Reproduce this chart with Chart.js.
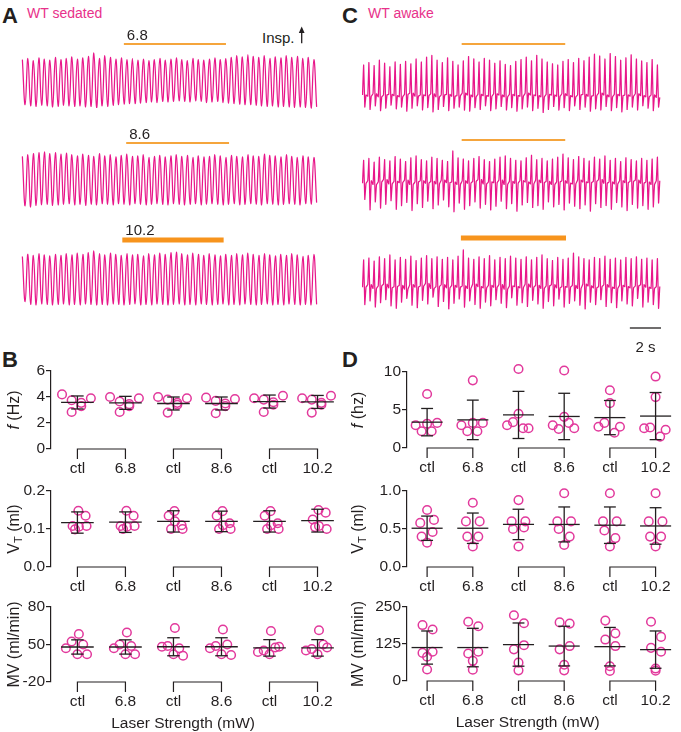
<!DOCTYPE html>
<html>
<head>
<meta charset="utf-8">
<title>WT sedated / awake</title>
<script src="https://cdn.jsdelivr.net/npm/chart.js@4.4.1/dist/chart.umd.min.js"></script>
<style>
  body { margin: 0; background: #fff; }
  #page { position: relative; width: 681px; height: 732px; overflow: hidden; background: #fff;
          font-family: Arial, "Liberation Sans", Helvetica, sans-serif; color: #231f20; }
  #page canvas { position: absolute; }
  .txt { position: absolute; white-space: nowrap; line-height: 1; }
  .panel { font-weight: bold; font-size: 22px; }
  .cond { font-size: 14px; color: #e8318a; }
</style>
</head>
<body>
<div id="page">
  <div class="txt panel" style="left:2px;top:5px">A</div>
  <div class="txt cond" style="left:27px;top:5.5px">WT sedated</div>
  <div class="txt panel" style="left:342px;top:5px">C</div>
  <div class="txt cond" style="left:368px;top:5.5px">WT awake</div>
  <div class="txt panel" style="left:2px;top:349px">B</div>
  <div class="txt panel" style="left:342px;top:349px">D</div>
  <div class="txt" style="left:262px;top:29.5px;font-size:15px">Insp.</div>
  <svg style="position:absolute;left:297px;top:25px" width="10" height="20">
    <line x1="4.7" y1="18.3" x2="4.7" y2="6" stroke="#231f20" stroke-width="1.3"/>
    <polygon points="4.7,1.5 1.8,8 7.6,8" fill="#231f20"/>
  </svg>
</div>
<script>
const ink = '#231f20';
const magenta = '#e8178a';
const dotPink = '#e2399c';
const fontFam = 'Arial, "Liberation Sans", Helvetica, sans-serif';

// breathing traces, one value per cycle (0 = lowest trough, 100 = highest peak of that trace)
const traceSeconds = 19.2;
const scaleBarSeconds = 2;

const sedPeak68 = [88,90,86,91,89,87,92,88,90,93,89,91,94,100,90,95,92,89,91,88,90,87,89,86,88,90,87,89,91,88,86,90,88,87,89,91,88,90,92,95,93,97,94,92,95,90,93,91,95,92,94,90,92,88];
const sedTrough68 = [6,4,3,5,4,2,3,5,4,3,4,2,3,1,4,3,5,6,7,8,8,9,10,11,10,12,11,12,13,12,11,13,12,10,11,12,10,9,8,7,6,6,5,4,3,4,2,3,2,1,2,1,0,2];
const sedPeak86 = [92,95,97,99,100,97,99,96,98,95,93,96,94,92,97,93,95,91,94,96,92,93,95,90,92,94,91,93,95,92,94,90,93,91,92,95,93,90,94,92,91,95,93,92,96,94,93,91,95,92,90,93,91,90];
const sedTrough86 = [2,0,3,4,5,3,4,5,6,4,5,3,5,4,6,5,4,6,5,4,6,5,4,5,6,5,4,6,5,4,5,6,4,5,6,5,4,5,6,4,5,6,5,4,6,5,4,5,6,5,4,6,5,8];
const sedPeak102 = [90,94,92,95,93,91,94,92,95,93,96,94,97,100,95,93,96,94,92,95,93,94,91,95,93,96,94,97,98,95,93,96,94,92,95,93,91,94,92,95,93,96,94,92,95,93,91,94,92,95,93,90,92,94];
const sedTrough102 = [8,3,2,4,3,2,3,4,2,3,2,4,3,2,3,2,4,3,2,3,4,2,3,2,4,3,2,3,4,2,3,2,4,3,2,3,4,2,3,2,4,3,2,3,4,2,3,2,4,3,2,3,2,3];

const awkPeak68 = [80,84,79,88,83,77,85,81,86,82,90,85,93,96,88,84,92,86,80,87,94,90,85,91,88,83,87,81,79,86,89,93,87,96,90,85,82,80,86,89,84,91,87,93,98,95,90,99,94,88,92,97,90,87,84,89,80];
const awkTrough68 = [10,6,12,4,8,13,7,10,3,8,12,5,9,2,6,11,4,8,10,5,3,9,6,12,4,7,11,5,9,3,7,10,4,8,1,6,11,5,9,4,12,6,10,3,7,5,11,4,9,2,6,10,5,12,8,4,10];
const awkBase68 = [30,28,32,27,30,31,29,27,31,33,28,30,29,32,27,30,31,28,29,33,30,27,31,29,28,32,30,27,31,29,28,33,30,29,27,31,30,28,32,29,27,30,31,28,29,33,30,27,31,29,30,28,32,29,27,30,26];
const awkPeak86 = [85,88,82,90,86,84,91,87,83,89,92,86,84,90,88,85,83,100,89,87,84,88,91,86,83,87,90,92,88,85,84,89,93,86,88,84,87,90,95,89,86,91,88,84,90,87,92,85,88,83,89,86,84,88,85,87,90];
const awkTrough86 = [22,5,18,8,14,20,6,12,17,4,15,9,19,7,13,21,10,2,16,6,12,18,8,14,5,11,19,7,15,3,13,17,9,12,6,18,10,14,5,16,11,7,13,3,15,9,12,6,17,10,4,14,8,12,6,10,16];
const awkBase86 = [48,52,46,50,54,47,51,49,53,46,50,52,48,51,47,53,49,50,46,52,48,51,54,47,50,49,53,46,51,48,52,50,47,53,49,51,46,50,52,48,47,53,50,49,51,54,48,50,47,52,49,51,53,48,50,46,52];
const awkPeak102 = [84,87,82,89,86,92,84,88,85,90,83,87,91,86,89,85,88,84,90,100,87,85,89,86,91,84,88,86,90,87,85,89,84,88,92,86,83,88,85,87,95,89,86,84,88,86,90,85,87,84,88,86,89,85,87,84,86];
const awkTrough102 = [12,18,8,15,20,10,6,16,22,11,7,19,13,24,9,17,5,14,21,8,18,12,6,16,10,20,14,7,23,11,15,9,19,13,6,17,10,21,8,14,18,11,5,16,12,20,9,15,7,18,13,10,22,8,16,12,6];
const awkBase102 = [40,44,38,42,45,39,41,43,37,44,40,42,46,38,41,44,39,43,40,42,38,45,41,39,43,40,44,37,42,41,39,45,40,43,38,42,44,39,41,40,43,38,45,42,39,41,44,40,38,43,41,39,42,44,40,38,41];

// laser on / off (s)
const sedLaser68 = [6.65, 13.25];
const sedLaser86 = [6.8, 13.45];
const sedLaser102 = [6.55, 13.1];
const awkLaser68 = [6.4, 13.05];
const awkLaser86 = [6.4, 13.05];
const awkLaser102 = [6.35, 13.1];

// group plots
const groupLabels = ['ctl', '6.8', 'ctl', '8.6', 'ctl', '10.2'];

const sedF = [[4.2,3.75,2.85,3.3,3.55,3.9],[4.0,3.65,2.85,3.45,3.3,3.9],[4.0,3.8,2.8,3.4,3.55,3.9],[3.95,3.7,2.75,3.3,3.5,3.85],[3.9,3.8,2.85,3.4,3.6,4.1],[3.9,3.8,2.8,3.4,3.55,4.1]];
const sedFMean = [3.58,3.55,3.5,3.5,3.65,3.62];
const sedFSd = [0.5,0.5,0.5,0.5,0.5,0.5];
const sedVt = [[0.148,0.135,0.108,0.106,0.108,0.099],[0.148,0.135,0.108,0.106,0.108,0.1],[0.147,0.11,0.135,0.12,0.1,0.1],[0.147,0.115,0.135,0.11,0.1,0.1],[0.147,0.115,0.135,0.11,0.1,0.1],[0.15,0.143,0.125,0.108,0.1,0.105]];
const sedVtMean = [0.117,0.118,0.12,0.12,0.12,0.122];
const sedVtSd = [0.028,0.027,0.028,0.027,0.028,0.03];
const sedMv = [[44,34,30,17,17,25],[46,30,28,17,17,25],[52,28,25,17,15,27],[50,28,30,17,16,25],[48,22,26,17,27,20],[49,24,30,17,26,22]];
const sedMvMean = [26.7,26.7,27,27,25.5,25.5];
const sedMvSd = [9.5,9.5,12,12,11,11];

const awkF = [[7.1,3.2,3.0,3.3,2.2,2.2],[8.9,3.3,3.0,3.3,2.2,2.2],[10.4,4.5,3.0,2.6,3.4,2.6],[10.2,4.1,3.0,2.6,2.5,3.3],[7.6,5.9,2.8,2.8,3.3,2.0],[9.4,6.7,2.6,2.4,2.7,1.5]];
const awkFMean = [3.4,3.7,4.35,4.15,4.0,4.2];
const awkFSd = [1.8,2.6,3.1,3.05,2.25,3.1];
const awkVt = [[0.75,0.58,0.62,0.4,0.46,0.32],[0.845,0.6,0.6,0.4,0.4,0.27],[0.88,0.6,0.6,0.5,0.52,0.27],[0.97,0.6,0.6,0.5,0.4,0.29],[0.97,0.6,0.6,0.48,0.38,0.27],[0.97,0.6,0.6,0.4,0.4,0.27]];
const awkVtMean = [0.51,0.51,0.56,0.56,0.55,0.54];
const awkVtSd = [0.16,0.2,0.2,0.23,0.24,0.24];
const awkMv = [[189,174,95,99,82,39],[200,185,93,99,68,38],[222,195,107,121,62,36],[198,194,107,118,55,36],[204,161,140,118,50,34],[200,149,112,99,42,35]];
const awkMvMean = [113,113,123,118,116,106];
const awkMvSd = [56,65,73,67,65,63];

function addCanvas(left, top, w, h) {
  const cv = document.createElement('canvas');
  cv.width = w; cv.height = h;
  cv.style.left = left + 'px'; cv.style.top = top + 'px';
  cv.style.width = w + 'px'; cv.style.height = h + 'px';
  document.getElementById('page').appendChild(cv);
  return cv;
}

function sedatedSeries(peaks, troughs) {
  const dt = traceSeconds / (peaks.length * 2), pts = [];
  peaks.forEach((p, i) => {
    pts.push({x: (2 * i + 0.5) * dt, y: p});
    pts.push({x: (2 * i + 1.5) * dt, y: troughs[i]});
  });
  return pts;
}

// awake breaths: baseline, fast spike up, dip below baseline, back to the baseline plateau
function awakeSeries(peaks, troughs, base) {
  const dt = traceSeconds / (peaks.length * 3), pts = [];
  peaks.forEach((p, i) => {
    pts.push({x: (3 * i + 0.3) * dt, y: base[i]});
    pts.push({x: (3 * i + 0.95) * dt, y: p});
    pts.push({x: (3 * i + 1.6) * dt, y: troughs[i]});
    pts.push({x: (3 * i + 2.3) * dt, y: base[i]});
  });
  return pts;
}

function laserPlugin(o, top) {
  return {
    id: 'laser',
    afterDraw(chart) {
      const ctx = chart.ctx, xs = chart.scales.x;
      const x1 = xs.getPixelForValue(o.on[0]), x2 = xs.getPixelForValue(o.on[1]);
      const y = o.barY - top;
      ctx.save();
      ctx.strokeStyle = o.thick ? '#f7941d' : '#f5a53c';
      ctx.lineWidth = o.thick ? 5 : 2;
      ctx.beginPath(); ctx.moveTo(x1, y); ctx.lineTo(x2, y); ctx.stroke();
      if (o.label) {
        ctx.fillStyle = ink;
        ctx.font = '15px ' + fontFam;
        ctx.textBaseline = 'alphabetic';
        ctx.fillText(o.label, x1 + 3, y - (o.thick ? 5 : 4));
      }
      if (o.scaleBar) {
        const s1 = xs.getPixelForValue(traceSeconds - scaleBarSeconds), s2 = xs.getPixelForValue(traceSeconds);
        const sy = 328 - top;
        ctx.strokeStyle = ink; ctx.lineWidth = 1.3;
        ctx.beginPath(); ctx.moveTo(s1, sy); ctx.lineTo(s2, sy); ctx.stroke();
        ctx.fillStyle = ink;
        ctx.font = '15px ' + fontFam;
        ctx.textAlign = 'center';
        ctx.fillText(scaleBarSeconds + ' s', (s1 + s2) / 2, 351.5 - top);
      }
      ctx.restore();
    }
  };
}

function traceChart(o) {
  const k = (o.yBot - o.yTop) / 100;
  const areaTop = o.yTop - 4 * k, areaBot = o.yBot + 4 * k;
  const top = Math.floor(o.barY - 22);
  const bottom = Math.ceil(o.scaleBar ? 358 : areaBot + 2);
  const cv = addCanvas(o.left, top, o.width, bottom - top);
  new Chart(cv, {
    type: 'line',
    data: {datasets: [{data: o.data, borderColor: magenta, borderWidth: 1.25, pointRadius: 0, tension: o.tension, fill: false}]},
    options: {
      responsive: false, animation: false, devicePixelRatio: 1,
      layout: {padding: {top: areaTop - top, bottom: bottom - areaBot, left: 0, right: 0}},
      plugins: {legend: {display: false}, tooltip: {enabled: false}},
      scales: {
        x: {type: 'linear', display: false, min: 0, max: traceSeconds},
        y: {display: false, min: -4, max: 104}
      }
    },
    plugins: [laserPlugin(o, top)]
  });
}

function dotDecor(o) {
  return {
    id: 'dotDecor',
    afterDatasetsDraw(chart) {
      const ctx = chart.ctx, a = chart.chartArea, xs = chart.scales.x, ys = chart.scales.y;
      const seg = (x1, y1, x2, y2) => { ctx.beginPath(); ctx.moveTo(x1, y1); ctx.lineTo(x2, y2); ctx.stroke(); };
      ctx.save();
      ctx.strokeStyle = ink; ctx.lineWidth = 1.3;
      // mean +- SD
      o.means.forEach((m, i) => {
        const xc = xs.getPixelForValue(i);
        const ym = ys.getPixelForValue(m), yt = ys.getPixelForValue(m + o.sds[i]), yb = ys.getPixelForValue(m - o.sds[i]);
        seg(xs.getPixelForValue(i - 0.34), ym, xs.getPixelForValue(i + 0.34), ym);
        seg(xc, yt, xc, yb);
        seg(xs.getPixelForValue(i - 0.13), yt, xs.getPixelForValue(i + 0.13), yt);
        seg(xs.getPixelForValue(i - 0.13), yb, xs.getPixelForValue(i + 0.13), yb);
      });
      // ctl / laser brackets
      ctx.lineWidth = 1.2;
      for (let g = 0; g < groupLabels.length; g += 2) {
        const x1 = xs.getPixelForValue(g), x2 = xs.getPixelForValue(g + 1), y = a.bottom;
        ctx.beginPath();
        ctx.moveTo(x1, y + 10); ctx.lineTo(x1, y); ctx.lineTo(x2, y); ctx.lineTo(x2, y + 10);
        ctx.stroke();
      }
      // rotated y title with mixed fonts
      ctx.fillStyle = ink;
      ctx.translate(o.titleX, (a.top + a.bottom) / 2);
      ctx.rotate(-Math.PI / 2);
      ctx.textBaseline = 'middle';
      let w = 0;
      o.title.forEach(p => { ctx.font = p.font; w += ctx.measureText(p.t).width; });
      let x = -w / 2;
      o.title.forEach(p => { ctx.font = p.font; ctx.fillText(p.t, x, p.dy || 0); x += ctx.measureText(p.t).width; });
      ctx.setTransform(1, 0, 0, 1, 0, 0);
      if (o.xTitle) {
        ctx.font = '15.5px ' + fontFam;
        ctx.textAlign = 'center';
        ctx.textBaseline = 'middle';
        ctx.fillText(o.xTitle, xs.getPixelForValue(2.2), a.bottom + 41.5);
      }
      ctx.restore();
    }
  };
}

function dotChart(o) {
  const top = Math.round(o.yMaxPx - 12);
  const h = Math.round(o.yMinPx - top + o.below);
  const cv = addCanvas(o.left, top, o.width, h);
  const pts = [];
  o.values.forEach((g, i) => g.forEach((v, j) => pts.push({x: i + o.jitter[j], y: v})));
  new Chart(cv, {
    type: 'scatter',
    data: {datasets: [{data: pts, clip: false, pointStyle: 'circle', pointRadius: 4.3, pointHoverRadius: 4.3,
                       pointBorderWidth: 1.5, borderColor: dotPink, backgroundColor: 'rgba(0,0,0,0)'}]},
    options: {
      responsive: false, animation: false, devicePixelRatio: 1,
      layout: {padding: {top: o.yMaxPx - top, left: 0, right: 0, bottom: 0}},
      plugins: {legend: {display: false}, tooltip: {enabled: false}},
      scales: {
        x: {
          type: 'linear', min: o.xMin, max: o.xMax,
          afterBuildTicks: s => { s.ticks = groupLabels.map((_, i) => ({value: i})); },
          afterFit: s => { s.height = o.below; },
          ticks: {callback: v => groupLabels[Math.round(v)], autoSkip: false, maxRotation: 0, minRotation: 0,
                  padding: 10, color: ink, font: {family: fontFam, size: 15.5}},
          grid: {display: false, drawTicks: false},
          border: {display: false}
        },
        y: {
          type: 'linear', min: o.yMin, max: o.yMax,
          afterBuildTicks: s => { s.ticks = o.ticks.map(v => ({value: v})); },
          afterFit: s => { s.width = o.axisX - o.left; },
          ticks: {callback: (v, i) => o.tickLabels[i], padding: 1, color: ink, font: {family: fontFam, size: 15.5}},
          grid: {drawOnChartArea: false, drawTicks: true, tickLength: 5, color: ink, lineWidth: 1.2},
          border: {display: true, color: ink, width: 1.2}
        }
      }
    },
    plugins: [dotDecor(o)]
  });
}

// A: sedated traces
traceChart({left: 21, width: 297, yTop: 53, yBot: 108, barY: 44, thick: false, label: '6.8', on: sedLaser68, tension: 0.4, data: sedatedSeries(sedPeak68, sedTrough68)});
traceChart({left: 21, width: 297, yTop: 152, yBot: 207, barY: 143, thick: false, label: '8.6', on: sedLaser86, tension: 0.4, data: sedatedSeries(sedPeak86, sedTrough86)});
traceChart({left: 21, width: 297, yTop: 251, yBot: 306, barY: 240, thick: true, label: '10.2', on: sedLaser102, tension: 0.4, data: sedatedSeries(sedPeak102, sedTrough102)});

// C: awake traces
traceChart({left: 362, width: 299, yTop: 53, yBot: 113, barY: 44, thick: false, on: awkLaser68, tension: 0.1, data: awakeSeries(awkPeak68, awkTrough68, awkBase68)});
traceChart({left: 362, width: 299, yTop: 151, yBot: 213, barY: 140, thick: false, on: awkLaser86, tension: 0.1, data: awakeSeries(awkPeak86, awkTrough86, awkBase86)});
traceChart({left: 362, width: 299, yTop: 250, yBot: 312, barY: 238, thick: true, on: awkLaser102, tension: 0.1, scaleBar: true, data: awakeSeries(awkPeak102, awkTrough102, awkBase102)});

// B / D: group statistics
const f16 = '16px ' + fontFam, fi16 = 'italic 16px ' + fontFam, f11 = '11px ' + fontFam;
const sedBox = {left: 0, width: 343, axisX: 51, xMin: -0.55, xMax: 5.4, titleX: 15};
const awkBox = {left: 340, width: 341, axisX: 407, xMin: -0.44, xMax: 5.33, titleX: 19};

dotChart(Object.assign({}, sedBox, {yMaxPx: 371, yMinPx: 449, below: 30, yMin: 0, yMax: 6, ticks: [0, 2, 4, 6], tickLabels: ['0', '2', '4', '6'],
  values: sedF, means: sedFMean, sds: sedFSd, jitter: [-0.32, -0.12, -0.12, 0.08, 0.08, 0.28],
  title: [{t: 'f', font: fi16}, {t: ' (Hz)', font: f16}]}));
dotChart(Object.assign({}, sedBox, {yMaxPx: 491, yMinPx: 567, below: 30, yMin: 0, yMax: 0.2, ticks: [0, 0.1, 0.2], tickLabels: ['0.0', '0.1', '0.2'],
  values: sedVt, means: sedVtMean, sds: sedVtSd, jitter: [0.02, 0.17, -0.1, 0.03, 0.19, -0.05],
  title: [{t: 'V', font: f16}, {t: 'T', font: f11, dy: 4}, {t: ' (ml)', font: f16}]}));
dotChart(Object.assign({}, sedBox, {yMaxPx: 607, yMinPx: 682, below: 50, yMin: -20, yMax: 80, ticks: [-20, 30, 80], tickLabels: ['-20', '50', '80'],
  values: sedMv, means: sedMvMean, sds: sedMvSd, jitter: [0.03, -0.12, 0.12, 0, 0.2, -0.24],
  title: [{t: 'MV (ml/min)', font: f16}], xTitle: 'Laser Strength (mW)'}));

dotChart(Object.assign({}, awkBox, {yMaxPx: 372, yMinPx: 448, below: 30, yMin: 0, yMax: 10, ticks: [0, 5, 10], tickLabels: ['0', '5', '10'],
  values: awkF, means: awkFMean, sds: awkFSd, jitter: [0, 0, -0.25, 0.22, -0.12, 0.1],
  title: [{t: 'f', font: fi16}, {t: ' (hz)', font: f16}]}));
dotChart(Object.assign({}, awkBox, {yMaxPx: 491, yMinPx: 567, below: 30, yMin: 0, yMax: 1, ticks: [0, 0.5, 1], tickLabels: ['0.0', '0.5', '1.0'],
  values: awkVt, means: awkVtMean, sds: awkVtSd, jitter: [0, -0.15, 0.15, -0.12, 0.12, 0],
  title: [{t: 'V', font: f16}, {t: 'T', font: f11, dy: 4}, {t: ' (ml)', font: f16}]}));
dotChart(Object.assign({}, awkBox, {yMaxPx: 607, yMinPx: 681, below: 51, yMin: 0, yMax: 250, ticks: [0, 125, 250], tickLabels: ['0', '125', '250'],
  values: awkMv, means: awkMvMean, sds: awkMvSd, jitter: [-0.1, 0.12, -0.1, 0.12, 0, 0],
  title: [{t: 'MV (ml/min)', font: f16}], xTitle: 'Laser Strength (mW)'}));
</script>
</body>
</html>
